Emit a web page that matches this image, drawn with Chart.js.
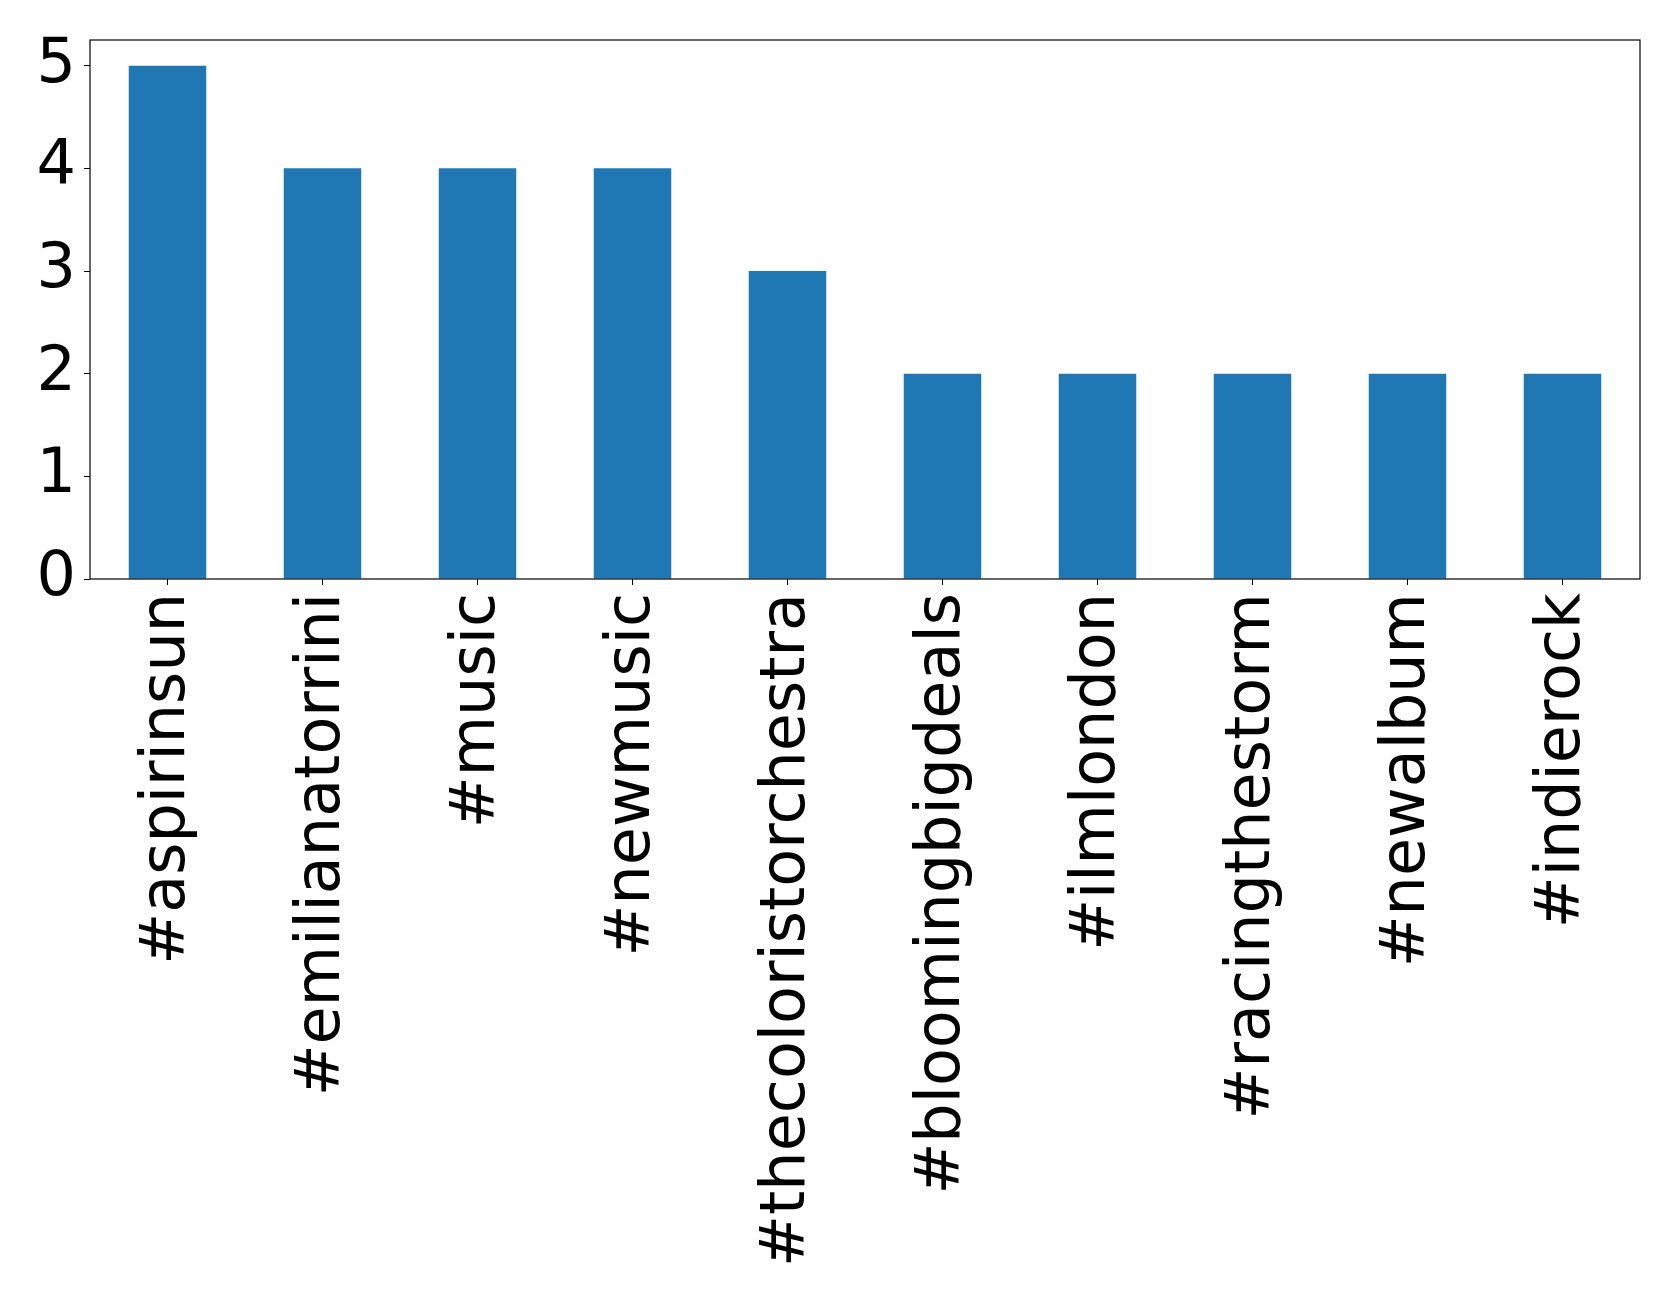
<!DOCTYPE html>
<html>
<head>
<meta charset="utf-8">
<script src="https://cdn.jsdelivr.net/npm/chart.js@4/dist/chart.umd.min.js"></script>
<style>
html,body{margin:0;padding:0;background:#fff;}
#wrap{width:1679px;height:1308px;position:relative;}
</style>
</head>
<body>
<div id="wrap"><canvas id="c" width="1679" height="1308"></canvas></div>
<script>
const categories = ["#aspirinsun","#emilianatorrini","#music","#newmusic","#thecoloristorchestra","#bloomingbigdeals","#ilmlondon","#racingthestorm","#newalbum","#indierock"];
const counts = [5,4,4,4,3,2,2,2,2,2];
const yTicks = [0,1,2,3,4,5];

const FONT = "'DejaVu Sans', sans-serif";
const frame = {
  id: 'frame',
  afterDraw(chart) {
    const {ctx, chartArea: a} = chart;
    ctx.save();
    ctx.strokeStyle = '#000';
    ctx.lineWidth = 1.2;
    ctx.strokeRect(a.left, a.top, a.right - a.left, a.bottom - a.top);
    ctx.restore();
  }
};

new Chart(document.getElementById('c'), {
  type: 'bar',
  data: {
    labels: categories,
    datasets: [{
      data: counts,
      backgroundColor: '#1f77b4',
      borderWidth: 0,
      barPercentage: 1.0,
      categoryPercentage: 0.5
    }]
  },
  options: {
    responsive: false,
    animation: false,
    layout: { padding: { left: 0, top: 40, right: 39, bottom: 0 } },
    plugins: { legend: { display: false }, tooltip: { enabled: false } },
    scales: {
      x: {
        grid: { display: true, offset: false, drawOnChartArea: false, drawTicks: true, tickLength: 6, color: '#000', tickColor: '#000' },
        border: { display: false },
        ticks: {
          color: '#000',
          font: { family: FONT, size: 62 },
          maxRotation: 90, minRotation: 90,
          autoSkip: false,
          padding: 8
        },
        afterFit(s) { s.height = 1308 - 579; }
      },
      y: {
        min: 0, max: 5.25,
        afterBuildTicks(s) { s.ticks = yTicks.map(v => ({ value: v })); },
        grid: { display: true, drawOnChartArea: false, drawTicks: true, tickLength: 6, color: '#000', tickColor: '#000' },
        border: { display: false },
        ticks: {
          color: '#000',
          font: { family: FONT, size: 62, lineHeight: 1.0 },
          padding: 8,
          callback: (v) => String(v)
        },
        afterFit(s) { s.width = 90; }
      }
    }
  },
  plugins: [frame]
});
</script>
</body>
</html>
